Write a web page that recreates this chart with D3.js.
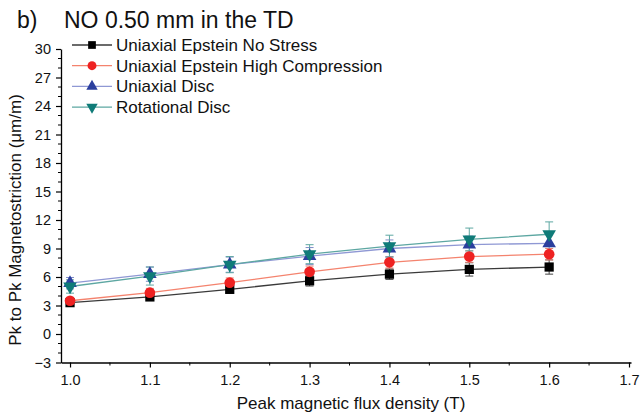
<!DOCTYPE html>
<html><head><meta charset="utf-8">
<script src="https://cdn.jsdelivr.net/npm/d3@7"></script>
<style>body{margin:0;background:#fff}svg{display:block}text{font-family:"Liberation Sans",Arial,sans-serif}</style>
</head><body>
<svg id="c" width="640" height="415"></svg>
<script>
const xValues = [1.0, 1.1, 1.2, 1.3, 1.4, 1.5, 1.6];
const noStress = [3.3, 3.9, 4.7, 5.6, 6.3, 6.8, 7.05];
const noStressErr = [0.3, 0.3, 0.4, 0.55, 0.55, 0.7, 0.75];
const highComp = [3.5, 4.35, 5.4, 6.55, 7.55, 8.15, 8.4];
const highCompErr = [0.35, 0.45, 0.5, 0.6, 0.6, 0.6, 0.6];
const uniDisc = [5.35, 6.3, 7.3, 8.2, 9.0, 9.4, 9.55];
const uniDiscErr = [0.6, 0.75, 0.8, 0.9, 0.9, 0.9, 0.9];
const rotDisc = [5.0, 6.1, 7.3, 8.4, 9.25, 9.95, 10.5];
const rotDiscErr = [0.7, 0.95, 0.85, 1.0, 1.15, 1.2, 1.3];
const yTicks = [-3, 0, 3, 6, 9, 12, 15, 18, 21, 24, 27, 30];
const xTicks = [1.0, 1.1, 1.2, 1.3, 1.4, 1.5, 1.6, 1.7];

const series = [
  {name: "Uniaxial Epstein No Stress", y: noStress, e: noStressErr, marker: "square", mc: "#000000", lc: "#3a3a3a", ec: "#444444"},
  {name: "Uniaxial Epstein High Compression", y: highComp, e: highCompErr, marker: "circle", mc: "#ee2222", lc: "#f4836e", ec: "#e88070"},
  {name: "Uniaxial Disc", y: uniDisc, e: uniDiscErr, marker: "triangle", mc: "#2b3f9e", lc: "#8f98d4", ec: "#7f8ac8"},
  {name: "Rotational Disc", y: rotDisc, e: rotDiscErr, marker: "triangleDown", mc: "#0f7b78", lc: "#5da7a2", ec: "#5da7a2"}
];

const svg = d3.select("#c");
const x = d3.scaleLinear().domain([0.9887, 1.7025]).range([61, 631]);
const y = d3.scaleLinear().domain([-3, 30]).range([362.5, 49]);

const xAxis = d3.axisBottom(x).tickValues(xTicks).tickFormat(d3.format(".1f")).tickSize(5).tickSizeOuter(0);
const gx = svg.append("g").attr("transform", "translate(0,362.5)").call(xAxis);
gx.select(".domain").attr("stroke", "#000").attr("stroke-width", 1.3);
gx.selectAll(".tick line").attr("stroke-width", 1.2);
gx.selectAll("text").attr("font-size", 14.5).attr("dy", "1.0em").attr("y", 8).attr("fill", "#111");
const xMinor = d3.range(1.05, 1.7, 0.1);
svg.append("g").selectAll("line").data(xMinor).join("line")
  .attr("x1", d => x(d)).attr("x2", d => x(d)).attr("y1", 362.5).attr("y2", 365.5)
  .attr("stroke", "#000").attr("stroke-width", 1);

const yAxis = d3.axisLeft(y).tickValues(yTicks).tickSize(5).tickSizeOuter(0);
const gy = svg.append("g").attr("transform", "translate(61,0)").call(yAxis);
gy.select(".domain").attr("stroke", "#000").attr("stroke-width", 1.3);
gy.selectAll(".tick line").attr("stroke-width", 1.2);
gy.selectAll("text").attr("font-size", 14.5).attr("fill", "#111").attr("x", -10);
const yMinor = d3.range(-2, 30, 1).filter(v => v % 3 !== 0);
svg.append("g").selectAll("line").data(yMinor).join("line")
  .attr("x1", 58).attr("x2", 61).attr("y1", d => y(d)).attr("y2", d => y(d))
  .attr("stroke", "#000").attr("stroke-width", 1);

function sym(type, size) {
  if (type === "square") return d3.symbol().type(d3.symbolSquare).size(size)();
  if (type === "circle") return d3.symbol().type(d3.symbolCircle).size(size)();
  return d3.symbol().type(d3.symbolTriangle).size(size)();
}
const symSize = {square: 85, circle: 90, triangle: 80, triangleDown: 80};

series.forEach(s => {
  const pts = xValues.map((xv, i) => ({x: xv, y: s.y[i], e: s.e[i]}));
  const g = svg.append("g");
  g.selectAll("line.err").data(pts).join("line")
    .attr("x1", d => x(d.x)).attr("x2", d => x(d.x))
    .attr("y1", d => y(d.y - d.e)).attr("y2", d => y(d.y + d.e))
    .attr("stroke", s.ec).attr("stroke-width", 1);
  [1, -1].forEach(sg => {
    g.selectAll("line.cap" + sg).data(pts).join("line")
      .attr("x1", d => x(d.x) - 4).attr("x2", d => x(d.x) + 4)
      .attr("y1", d => y(d.y + sg * d.e)).attr("y2", d => y(d.y + sg * d.e))
      .attr("stroke", s.ec).attr("stroke-width", 1);
  });
  g.append("path").datum(pts)
    .attr("d", d3.line().x(d => x(d.x)).y(d => y(d.y)))
    .attr("fill", "none").attr("stroke", s.lc).attr("stroke-width", 1.3);
});
series.forEach(s => {
  svg.append("g").selectAll("path").data(xValues.map((xv, i) => [xv, s.y[i]])).join("path")
    .attr("d", sym(s.marker, symSize[s.marker]))
    .attr("transform", d => `translate(${x(d[0])},${y(d[1])})` + (s.marker === "triangleDown" ? " rotate(180)" : ""))
    .attr("fill", s.mc);
});

const lg = svg.append("g");
series.forEach((s, i) => {
  const yy = 45 + i * 20.7;
  lg.append("line").attr("x1", 72).attr("x2", 112).attr("y1", yy).attr("y2", yy)
    .attr("stroke", s.lc).attr("stroke-width", 1.3);
  lg.append("path").attr("d", sym(s.marker, symSize[s.marker] * 0.7))
    .attr("transform", `translate(92,${yy})` + (s.marker === "triangleDown" ? " rotate(180)" : ""))
    .attr("fill", s.mc);
  lg.append("text").attr("x", 116).attr("y", yy + 6).attr("font-size", 17).attr("fill", "#111").text(s.name);
});

svg.append("text").attr("x", 17).attr("y", 28).attr("font-size", 23).attr("fill", "#111").text("b)");
svg.append("text").attr("x", 64).attr("y", 28).attr("font-size", 23).attr("fill", "#111").text("NO 0.50 mm in the TD");
svg.append("text").attr("transform", "translate(21,220) rotate(-90)").attr("text-anchor", "middle")
  .attr("font-size", 17).attr("fill", "#111").text("Pk to Pk Magnetostriction (μm/m)");
svg.append("text").attr("x", 351).attr("y", 409).attr("text-anchor", "middle")
  .attr("font-size", 17).attr("fill", "#111").text("Peak magnetic flux density (T)");
</script>
</body></html>
